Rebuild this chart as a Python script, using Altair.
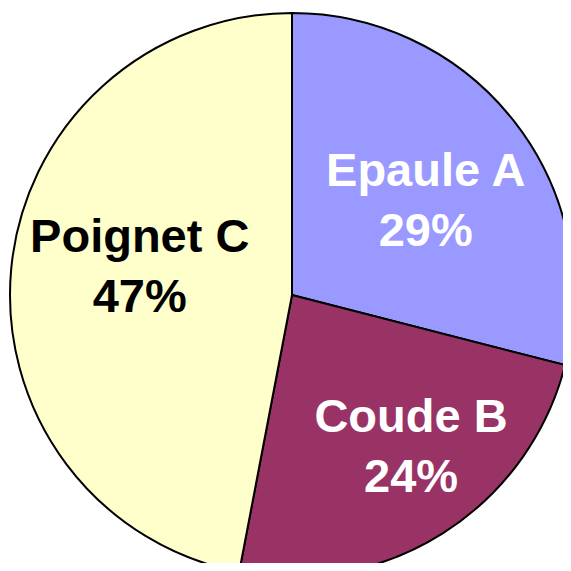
import altair as alt
import pandas as pd

categories = ["Epaule A", "Coude B", "Poignet C"]
values = [29, 24, 47]
slice_colors = ["#9999FF", "#993366", "#FFFFCC"]
label_colors = ["#FFFFFF", "#FFFFFF", "#000000"]
# small per-label nudges (pixels) for the Excel-style "best fit" label placement
label_nudge = {"Epaule A": (1, -20), "Coude B": (29, -19), "Poignet C": (15, -41)}

df = pd.DataFrame({
    "cat": categories,
    "value": values,
    "idx": list(range(len(categories))),
})
df["label"] = [f"{c}\n{v}%" for c, v in zip(categories, values)]

CX, CY, R = 284, 287, 282

base = alt.Chart(df).encode(
    theta=alt.Theta("value:Q", stack=True),
    order=alt.Order("idx:Q"),
    x=alt.value(CX),
    y=alt.value(CY),
)

arcs = base.mark_arc(outerRadius=R, stroke="black", strokeWidth=2, clip=True).encode(
    color=alt.Color("cat:N", scale=alt.Scale(domain=categories, range=slice_colors), legend=None)
)

layers = [arcs]
for cat, tc in zip(categories, label_colors):
    ddx, ddy = label_nudge[cat]
    layers.append(
        base.mark_text(
            radius=168, dx=ddx, dy=ddy, lineBreak="\n", fontSize=47,
            font="Liberation Sans", fontWeight="bold", lineHeight=60,
            align="center", baseline="middle", color=tc,
        ).encode(
            text="label:N",
            opacity=alt.condition(alt.datum.cat == cat, alt.value(1), alt.value(0)),
        )
    )

chart = alt.layer(*layers).properties(
    width=555, height=555, padding=0, autosize=alt.AutoSizeParams(type="none")
).configure_view(stroke=None)

chart.save("out.html", embed_options={"renderer": "svg", "actions": False})
